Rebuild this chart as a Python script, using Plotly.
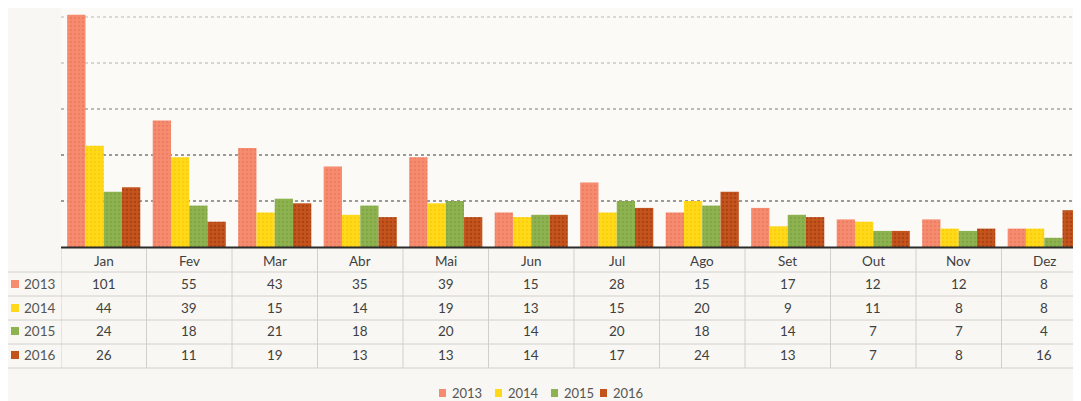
import plotly.graph_objects as go

months = ["Jan", "Fev", "Mar", "Abr", "Mai", "Jun", "Jul", "Ago", "Set", "Out", "Nov", "Dez"]
years = ["2013", "2014", "2015", "2016"]
v2013 = [101, 55, 43, 35, 39, 15, 28, 15, 17, 12, 12, 8]
v2014 = [44, 39, 15, 14, 19, 13, 15, 20, 9, 11, 8, 8]
v2015 = [24, 18, 21, 18, 20, 14, 20, 18, 14, 7, 7, 4]
v2016 = [26, 11, 19, 13, 13, 14, 17, 24, 13, 7, 8, 16]
series = [v2013, v2014, v2015, v2016]

colors = ["#F58C70", "#FFD91A", "#8EB24F", "#C4541C"]
dotcolors = ["#E8694E", "#F2C200", "#6E9A3A", "#8E2E10"]

OFF = 8  # page body margin
W, H = 1081 - OFF, 401 - OFF
L, T = 61 - OFF, 0
BASE = 247 - OFF
B = H - BASE
PW = W - L
PH = BASE - T


def fy(py):  # page pixel y -> paper
    return (BASE - (py - OFF)) / PH


def fx(px):  # page pixel x -> paper
    return (px - OFF - L) / PW


fig = go.Figure()
for name, vals, c, dc in zip(years, series, colors, dotcolors):
    fig.add_trace(go.Bar(
        x=months, y=vals, name=name, showlegend=False,
        marker=dict(color=c, line=dict(width=0),
                    pattern=dict(shape=".", fgcolor=dc, size=4, solidity=0.25)),
    ))

shapes = []
annotations = []
tcol = "#3f3f3f"
tfont = dict(family="Lato, Arial", size=13.5, color=tcol)
lfont = dict(family="Lato, Arial", size=13.5, color="#555555")
legfont = dict(family="Lato, Arial", size=13, color="#555555")
linec = "#d2d0cb"

# gridlines
grid_style = {20: ("#3a3a3a", "dot"), 40: ("#3a3a3a", "dot"), 60: ("#7a7a7a", "dot"),
              80: ("#b0b0b0", "dot"), 100: ("#b8b8b8", "dot")}
for gv, (gc, gd) in grid_style.items():
    shapes.append(dict(type="line", xref="paper", yref="y", x0=0, x1=1, y0=gv, y1=gv,
                       layer="below", line=dict(color=gc, width=1, dash=gd)))

# table horizontal lines
for py in [272, 296, 320, 344, 368]:
    shapes.append(dict(type="line", xref="paper", yref="paper",
                       x0=fx(0), x1=1, y0=fy(py), y1=fy(py),
                       line=dict(color=linec, width=1)))
# table vertical lines
for i in range(13):
    shapes.append(dict(type="line", xref="x", yref="paper",
                       x0=i - 0.5, x1=i - 0.5, y0=fy(249), y1=fy(368),
                       line=dict(color=linec, width=1)))

# header
for m in months:
    annotations.append(dict(x=m, y=fy(261), xref="x", yref="paper", text=m,
                            showarrow=False, xanchor="center", yanchor="middle", font=tfont))
rows_y = [284, 308, 331, 355]
for yr, vals, c, ry in zip(years, series, colors, rows_y):
    for m, v in zip(months, vals):
        annotations.append(dict(x=m, y=fy(ry), xref="x", yref="paper", text=str(v),
                                showarrow=False, xanchor="center", yanchor="middle", font=tfont))
    annotations.append(dict(x=fx(22), y=fy(ry), xref="paper", yref="paper", text=yr,
                            showarrow=False, xanchor="left", yanchor="middle", font=lfont))
    shapes.append(dict(type="rect", xref="paper", yref="paper",
                       x0=fx(11), x1=fx(19), y0=fy(ry + 4), y1=fy(ry - 4),
                       fillcolor=c, line=dict(width=0)))

# bottom legend (manual)
leg_x = [439, 495, 551, 600]
for yr, c, lx in zip(years, colors, leg_x):
    shapes.append(dict(type="rect", xref="paper", yref="paper",
                       x0=fx(lx), x1=fx(lx + 7), y0=fy(397), y1=fy(389),
                       fillcolor=c, line=dict(width=0)))
    annotations.append(dict(x=fx(lx + 11), y=fy(393), xref="paper", yref="paper", text=yr,
                            showarrow=False, xanchor="left", yanchor="middle", font=legfont))

# axis baseline
shapes.append(dict(type="line", xref="paper", yref="paper", x0=0, x1=1,
                   y0=fy(247.5), y1=fy(247.5), line=dict(color="#2b2b2b", width=2)))

fig.update_layout(
    width=W, height=H,
    margin=dict(l=L, r=0, t=T, b=B, pad=0),
    paper_bgcolor="#f8f7f3",
    plot_bgcolor="#fbfaf7",
    barmode="group",
    bargap=0.145,
    bargroupgap=0.0,
    showlegend=False,
    xaxis=dict(range=[-0.5, 11.43], showticklabels=False, showgrid=False,
               zeroline=False, showline=False, ticks=""),
    yaxis=dict(range=[0, PH / 2.3], showticklabels=False,
               showgrid=False, zeroline=False, showline=False, ticks=""),
    shapes=shapes,
    annotations=annotations,
    font=dict(family="Lato, Arial"),
)

fig.write_html("out.html")
